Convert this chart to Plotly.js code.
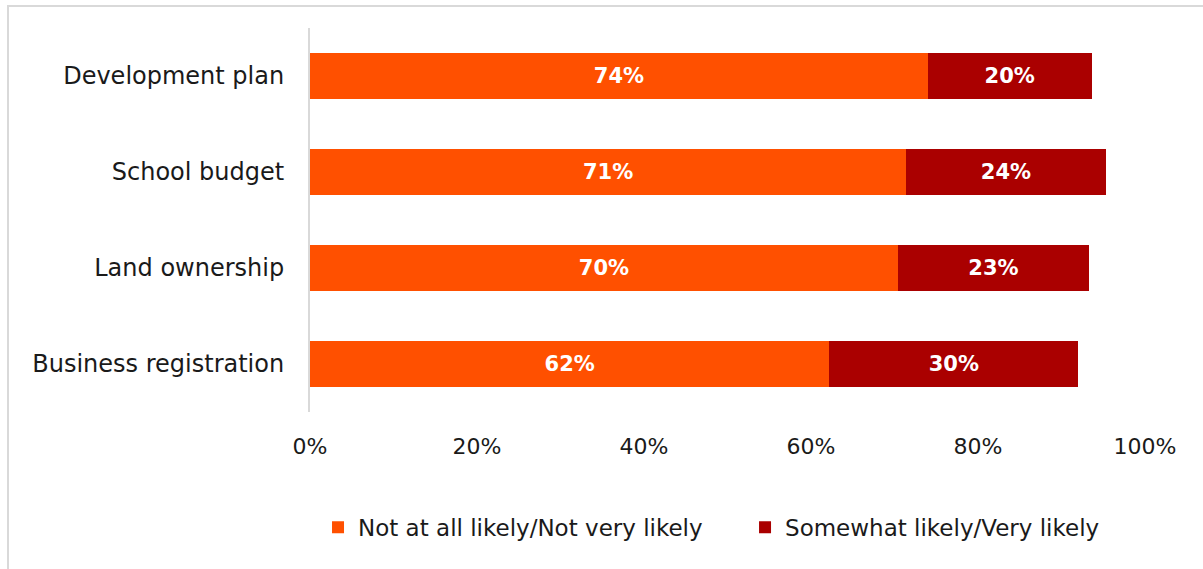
<!DOCTYPE html>
<html>
<head>
<meta charset="utf-8">
<script src="https://cdn.plot.ly/plotly-3.0.1.min.js"></script>
<style>
  html, body { margin: 0; padding: 0; background: #ffffff; }
  #chart { width: 1203px; height: 569px; }
</style>
</head>
<body>
<div id="chart"></div>
<script>
// Data
var categories = ["Development plan", "School budget", "Land ownership", "Business registration"];
var notLikely = [74.0, 71.4, 70.4, 62.2];
var likely = [19.6, 23.9, 22.9, 29.8];
var seriesNames = ["Not at all likely/Not very likely", "Somewhat likely/Very likely"];
var tickVals = [0, 20, 40, 60, 80, 100];
var tickText = ["0%", "20%", "40%", "60%", "80%", "100%"];

var FONT = "'DejaVu Sans', Verdana, sans-serif";

var traces = [
  {
    type: "bar", orientation: "h", name: seriesNames[0], legend: "legend",
    y: categories, x: notLikely,
    marker: { color: "#FF5000", line: { width: 0 } },
    texttemplate: "%{x:.0f}%", textposition: "inside", insidetextanchor: "middle",
    textfont: { color: "#ffffff", size: 21, family: FONT, weight: "bold" },
    hoverinfo: "skip"
  },
  {
    type: "bar", orientation: "h", name: seriesNames[1], legend: "legend2",
    y: categories, x: likely,
    marker: { color: "#AA0000", line: { width: 0 } },
    texttemplate: "%{x:.0f}%", textposition: "inside", insidetextanchor: "middle",
    textfont: { color: "#ffffff", size: 21, family: FONT, weight: "bold" },
    hoverinfo: "skip"
  }
];

var legendCommon = {
  orientation: "h", xanchor: "left", y: -0.30, yanchor: "middle",
  font: { size: 23, family: FONT, color: "#1a1a1a" },
  itemwidth: 30, bgcolor: "rgba(0,0,0,0)"
};

var layout = {
  width: 1203, height: 569,
  margin: { l: 310, r: 58, t: 28, b: 157 },
  paper_bgcolor: "#ffffff", plot_bgcolor: "#ffffff",
  barmode: "stack", bargap: 0.52,
  showlegend: true,
  font: { family: FONT, color: "#1a1a1a", size: 21 },
  xaxis: {
    range: [0, 100], tickvals: tickVals, ticktext: tickText,
    showgrid: false, zeroline: false, showline: false,
    ticks: "", ticklabelstandoff: 19,
    tickfont: { size: 22, family: FONT, color: "#1a1a1a" },
    fixedrange: true
  },
  yaxis: {
    type: "category", autorange: "reversed",
    showgrid: false, zeroline: false,
    showline: true, linecolor: "#d9d9d9", linewidth: 2,
    ticks: "", ticklabelstandoff: 19,
    tickfont: { size: 24, family: FONT, color: "#1a1a1a" },
    fixedrange: true
  },
  legend: Object.assign({}, legendCommon, { x: 0.0096 }),
  legend2: Object.assign({}, legendCommon, { x: 0.521 }),
  shapes: [
    { type: "rect", xref: "paper", yref: "paper",
      x0: -0.3617, x1: 1.2, y0: -0.6, y1: 1.0573,
      line: { color: "#d9d9d9", width: 2 }, fillcolor: "rgba(0,0,0,0)", layer: "below" }
  ]
};

Plotly.newPlot("chart", traces, layout, { displayModeBar: false, staticPlot: true });
</script>
</body>
</html>
